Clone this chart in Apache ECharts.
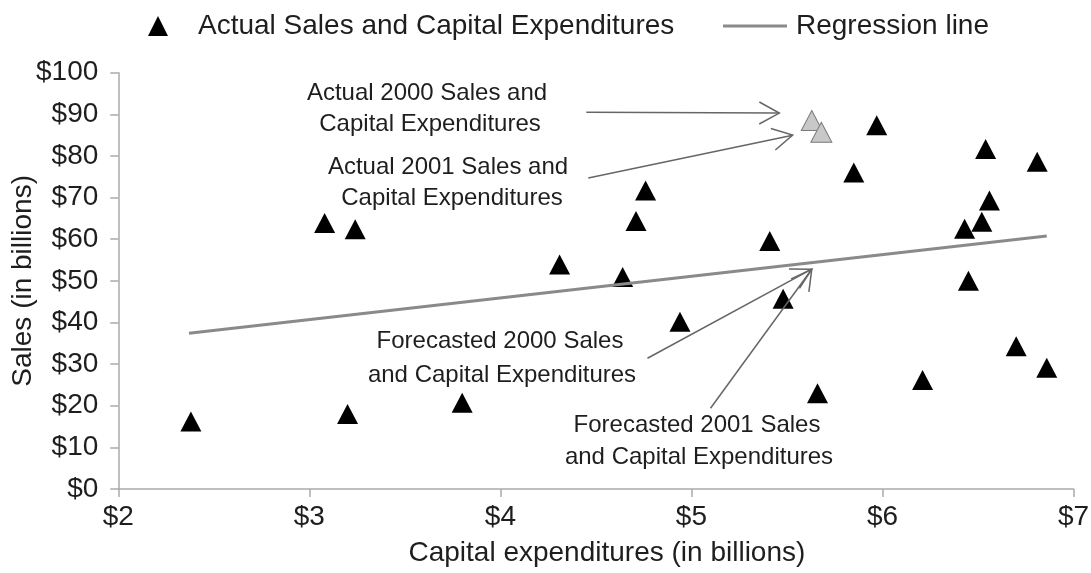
<!DOCTYPE html>
<html>
<head>
<meta charset="utf-8">
<script src="https://cdn.jsdelivr.net/npm/echarts@6/dist/echarts.min.js"></script>
<style>
  html, body { margin: 0; padding: 0; background: #fff; }
  #chart { width: 1091px; height: 573px; }
</style>
</head>
<body>
<div id="chart"></div>
<script>
// Capital expenditures (x, $ billions) and sales (y, $ billions)
const actualX = [2.38, 3.08, 3.24, 3.20, 3.80, 4.31, 4.64, 4.71, 4.76, 4.94, 5.41, 5.48,
                 5.66, 5.85, 5.97, 6.21, 6.43, 6.45, 6.52, 6.54, 6.56, 6.70, 6.81, 6.86];
const actualY = [16.2, 63.9, 62.4, 18.0, 20.7, 53.9, 50.9, 64.4, 71.7, 40.2, 59.6, 45.7,
                 23.0, 76.0, 87.4, 26.2, 62.5, 50.0, 64.2, 81.7, 69.3, 34.3, 78.6, 29.1];

// Actual 2000 and 2001 observations
const recentX = [5.63, 5.68];
const recentY = [88.5, 85.7];

// Regression line endpoints
const regX = [2.37, 6.86];
const regY = [37.4, 60.8];

// Callout arrows: tail (x, y) -> tip (x, y)
const arrowTailX = [4.45, 4.46, 4.77, 5.10];
const arrowTailY = [90.5, 74.7, 31.4, 19.4];
const arrowTipX  = [5.46, 5.53, 5.63, 5.63];
const arrowTipY  = [90.3, 85.0, 52.8, 52.8];

const xTicks = [2, 3, 4, 5, 6, 7];

const FONT = 'Liberation Sans, Arial, sans-serif';
const TXT = '#1e1e1e';

const chart = echarts.init(document.getElementById('chart'));

const zip = (a, b) => a.map((v, i) => [v, b[i]]);
const arrowData = arrowTailX.map((v, i) => [v, arrowTailY[i], arrowTipX[i], arrowTipY[i]]);

function renderArrow(params, api) {
  const p0 = api.coord([api.value(0), api.value(1)]);
  const p1 = api.coord([api.value(2), api.value(3)]);
  const dx = p1[0] - p0[0], dy = p1[1] - p0[1];
  const len = Math.sqrt(dx * dx + dy * dy);
  const ux = dx / len, uy = dy / len;
  const hl = 20, hw = 11;
  const bx = p1[0] - ux * hl, by = p1[1] - uy * hl;
  const a = [bx - uy * hw, by + ux * hw];
  const b = [bx + uy * hw, by - ux * hw];
  const style = { stroke: '#666', lineWidth: 1.5, fill: null };
  return {
    type: 'group',
    children: [
      { type: 'line', shape: { x1: p0[0], y1: p0[1], x2: p1[0], y2: p1[1] }, style },
      { type: 'polyline', shape: { points: [a, p1, b] }, style }
    ]
  };
}

function label(x, y, text) {
  return {
    type: 'text', x, y, z: 10,
    style: { text, fill: TXT, font: '24px ' + FONT, textAlign: 'center', textVerticalAlign: 'middle' }
  };
}

chart.setOption({
  animation: false,
  backgroundColor: '#fff',
  textStyle: { fontFamily: FONT },
  grid: { left: 118.3, right: 17.5, top: 72.7, bottom: 84, outerBoundsMode: 'none', containLabel: false },
  legend: [
    {
      data: [{ name: 'Actual Sales and Capital Expenditures', icon: 'triangle' }],
      left: 143, top: 7,
      itemWidth: 20, itemHeight: 20,
      symbolKeepAspect: true,
      itemStyle: { color: '#000', opacity: 1 },
      textStyle: { fontSize: 28, color: TXT, fontFamily: FONT, padding: [0, 0, 0, 25] }
    },
    {
      data: [{ name: 'Regression line', icon: 'rect' }],
      left: 718, top: 7,
      itemWidth: 64, itemHeight: 3,
      itemStyle: { color: '#8a8a8a' },
      textStyle: { fontSize: 28, color: TXT, fontFamily: FONT, padding: [0, 0, 0, 4] }
    }
  ],
  xAxis: {
    type: 'value', min: 2, max: 7, interval: 1,
    name: 'Capital expenditures (in billions)',
    nameLocation: 'middle', nameGap: 50, nameMoveOverlap: false,
    nameTextStyle: { fontSize: 28, color: TXT, fontFamily: FONT, padding: [0, 0, 0, 22] },
    axisLine: { lineStyle: { color: '#aaa', width: 1.5 } },
    axisTick: { show: true, length: 8, lineStyle: { color: '#aaa', width: 1.5 } },
    axisLabel: { fontSize: 28, color: TXT, margin: 14, formatter: v => xTicks.includes(v) ? '$' + v : '' },
    splitLine: { show: false }
  },
  yAxis: {
    type: 'value', min: 0, max: 100, interval: 10,
    name: 'Sales (in billions)',
    nameLocation: 'middle', nameGap: 81, nameRotate: 90, nameMoveOverlap: false,
    nameTextStyle: { fontSize: 28, color: TXT, fontFamily: FONT },
    axisLine: { show: true, lineStyle: { color: '#aaa', width: 1.5 } },
    axisTick: { show: true, length: 8, lineStyle: { color: '#aaa', width: 1.5 } },
    axisLabel: { fontSize: 28, color: TXT, margin: 20, formatter: v => '$' + v },
    splitLine: { show: false }
  },
  series: [
    {
      name: 'Actual Sales and Capital Expenditures',
      type: 'scatter',
      symbol: 'triangle', symbolSize: [21, 20],
      itemStyle: { color: '#000', opacity: 1 },
      data: zip(actualX, actualY),
      z: 3
    },
    {
      name: 'Actual 2000 and 2001',
      type: 'scatter',
      symbol: 'triangle', symbolSize: [21, 20],
      itemStyle: { color: '#c8c8c8', borderColor: '#7a7a7a', borderWidth: 1, opacity: 1 },
      data: zip(recentX, recentY),
      z: 3
    },
    {
      name: 'Regression line',
      type: 'line',
      showSymbol: false, symbol: 'none',
      lineStyle: { color: '#8a8a8a', width: 3 },
      itemStyle: { color: '#8a8a8a' },
      data: zip(regX, regY),
      z: 4
    },
    {
      name: 'Callouts',
      type: 'custom',
      renderItem: renderArrow,
      encode: { x: [0, 2], y: [1, 3] },
      data: arrowData,
      clip: false,
      silent: true,
      z: 5
    }
  ],
  graphic: [
    label(427, 93, 'Actual 2000 Sales and'),
    label(430, 124, 'Capital Expenditures'),
    label(448, 167, 'Actual 2001 Sales and'),
    label(452, 198, 'Capital Expenditures'),
    label(500, 341, 'Forecasted 2000 Sales'),
    label(502, 375, 'and Capital Expenditures'),
    label(697, 425, 'Forecasted 2001 Sales'),
    label(699, 457, 'and Capital Expenditures')
  ]
});
</script>
</body>
</html>
